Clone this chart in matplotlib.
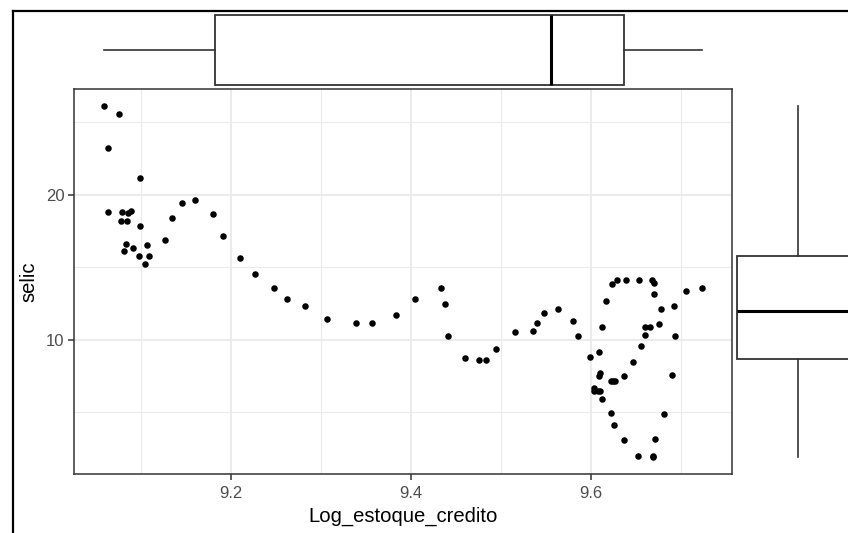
import matplotlib
matplotlib.use("Agg")
import matplotlib.pyplot as plt
from matplotlib.lines import Line2D

# Credit stock (log) vs. Selic rate
log_estoque_credito = [
    9.059, 9.076, 9.063, 9.099, 9.063, 9.079, 9.089, 9.086, 9.078, 9.085,
    9.099, 9.146, 9.160, 9.135, 9.127, 9.180, 9.191, 9.084, 9.081, 9.091,
    9.107, 9.098, 9.109, 9.105, 9.210, 9.227, 9.248, 9.263, 9.283, 9.307,
    9.339, 9.357, 9.384, 9.405, 9.434, 9.438, 9.442, 9.460, 9.476, 9.484,
    9.495, 9.516, 9.536, 9.540, 9.548, 9.564, 9.580, 9.586, 9.599, 9.609,
    9.613, 9.617, 9.624, 9.629, 9.639, 9.654, 9.668, 9.670, 9.671, 9.678,
    9.676, 9.661, 9.666, 9.660, 9.656, 9.647, 9.637, 9.627, 9.623, 9.610,
    9.609, 9.604, 9.604, 9.608, 9.611, 9.613, 9.623, 9.626, 9.637, 9.653,
    9.669, 9.672, 9.682, 9.691, 9.694, 9.693, 9.706, 9.724, 9.669, 9.625,
]
selic = [
    26.10, 25.56, 23.24, 21.18, 18.84, 18.84, 18.91, 18.75, 18.22, 18.22,
    17.85, 19.47, 19.63, 18.38, 16.88, 18.66, 17.14, 16.60, 16.14, 16.33,
    16.51, 15.79, 15.79, 15.24, 15.61, 14.53, 13.56, 12.84, 12.31, 11.41,
    11.13, 11.13, 11.68, 12.84, 13.56, 12.49, 10.23, 8.70, 8.61, 8.61,
    9.35, 10.51, 10.60, 11.13, 11.85, 12.12, 11.32, 10.23, 8.82, 9.17,
    10.87, 12.65, 13.81, 14.09, 14.09, 14.09, 14.09, 13.90, 13.12, 12.12,
    11.11, 10.87, 10.87, 10.32, 9.54, 8.45, 7.48, 7.11, 7.11, 7.71,
    7.46, 6.64, 6.42, 6.42, 6.42, 5.93, 4.96, 4.13, 3.09, 1.98,
    1.93, 3.16, 4.87, 7.55, 10.23, 12.31, 13.37, 13.56, 1.95, 7.11,
]
x_ticks = [9.2, 9.4, 9.6]
x_minor = [9.1, 9.3, 9.5, 9.7]
y_ticks = [10, 20]
y_minor = [5, 15, 25]

W, H = 848, 533
plt.rcParams["font.family"] = ["Liberation Sans", "DejaVu Sans"]
fig = plt.figure(figsize=(W / 100, H / 100), dpi=100)


def px_axes(left, top, right, bottom):
    return fig.add_axes([left / W, 1 - bottom / H, (right - left) / W, (bottom - top) / H])


# ggplot-like expanded limits
def expand(vals, mult=0.05):
    lo, hi = min(vals), max(vals)
    pad = (hi - lo) * mult
    return lo - pad, hi + pad


xlim = expand(log_estoque_credito)
ylim = expand(selic)

grid_c = "#EBEBEB"
frame_c = "#333333"

# Main scatter panel
ax = px_axes(74, 89, 732, 474)
ax.set_xlim(*xlim)
ax.set_ylim(*ylim)
for v in x_minor:
    ax.axvline(v, color=grid_c, lw=0.8, zorder=0)
for v in y_minor:
    ax.axhline(v, color=grid_c, lw=0.8, zorder=0)
for v in x_ticks:
    ax.axvline(v, color=grid_c, lw=1.5, zorder=0)
for v in y_ticks:
    ax.axhline(v, color=grid_c, lw=1.5, zorder=0)
ax.scatter(log_estoque_credito, selic, s=22, color="black", linewidths=0, zorder=3)
ax.set_xticks(x_ticks)
ax.set_xticklabels([f"{v:.1f}" for v in x_ticks])
ax.set_yticks(y_ticks)
ax.set_yticklabels([str(v) for v in y_ticks])
ax.tick_params(axis="both", length=4, width=1.1, color=frame_c,
               labelcolor="#4D4D4D", labelsize=12, pad=3)
ax.tick_params(axis="x", pad=5)
for sp in ax.spines.values():
    sp.set_color(frame_c)
    sp.set_linewidth(1.1)
ax.set_xlabel("Log_estoque_credito", fontsize=14.6, color="black", labelpad=4)
ax.set_ylabel("selic", fontsize=14.6, color="black", labelpad=5)

box_kw = dict(
    widths=1.0, patch_artist=True, showfliers=False, whis=1.5,
    boxprops=dict(facecolor="white", edgecolor=frame_c, linewidth=1.3),
    medianprops=dict(color="black", linewidth=2.2),
    whiskerprops=dict(color=frame_c, linewidth=1.2),
    capprops=dict(linewidth=0),
)

# Top marginal boxplot (x distribution)
axt = px_axes(74, 15, 732, 85)
axt.boxplot([log_estoque_credito], positions=[0], orientation="horizontal", **box_kw)
axt.set_xlim(*xlim)
axt.set_ylim(-0.5, 0.5)
axt.axis("off")
for art in axt.get_children():
    art.set_clip_on(False)

# Right marginal boxplot (y distribution)
axr = px_axes(737, 89, 859, 474)
axr.boxplot([selic], positions=[0], orientation="vertical", **box_kw)
axr.set_ylim(*ylim)
axr.set_xlim(-0.5, 0.5)
axr.axis("off")
for art in axr.get_children():
    art.set_clip_on(False)

# Outer frame along the top and left edges
fig.add_artist(Line2D([12.5 / W, 12.5 / W], [0, 1 - 11 / H], transform=fig.transFigure,
                      color="black", lw=1.6))
fig.add_artist(Line2D([12.5 / W, 1], [1 - 11 / H, 1 - 11 / H], transform=fig.transFigure,
                      color="black", lw=1.6))

fig.savefig("out.png", dpi=100, facecolor="white")
